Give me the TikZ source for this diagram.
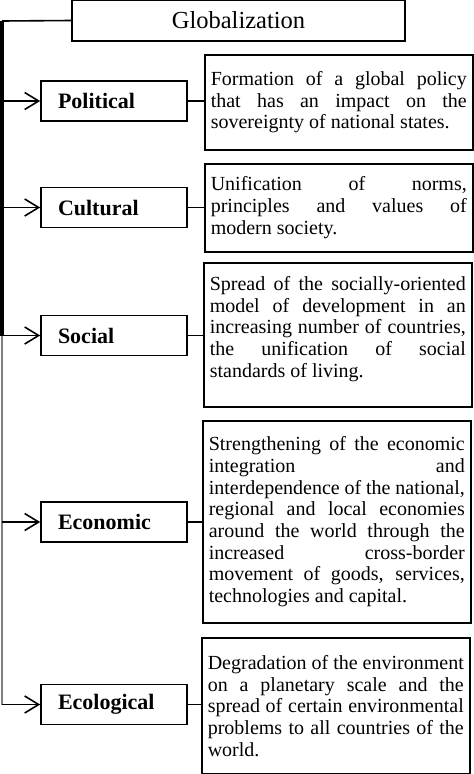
\documentclass[tikz,border=0pt]{standalone}
\usepackage{fontspec}
\setmainfont{Liberation Serif}
\usetikzlibrary{arrows.meta}

\begin{document}
\begin{tikzpicture}[x=1pt,y=-1pt,>={Straight Barb[length=14pt,width=17pt]},
    cat/.style={draw,line width=1.6pt,minimum height=40pt,text width=112pt,inner xsep=17pt,align=left,font=\fontsize{22}{24}\selectfont\bfseries},
    desc/.style={draw,line width=1.6pt,anchor=north west,text width=256pt,inner xsep=6pt,align=justify,font=\fontsize{20}{21.7}\selectfont}]
    \useasboundingbox (0,0) rectangle (474,774);

    \node[draw,line width=1.6pt,minimum width=333pt,minimum height=41pt,font=\fontsize{24.5}{26}\selectfont] (glob) at (238.5,20.5) {Globalization};

    \node[cat] (pol) at (114,101) {Political};
    \node[cat] (cul) at (114,207.5) {Cultural};
    \node[cat] (soc) at (114,335.5) {Social};
    \node[cat] (eco) at (114,522) {Economic};
    \node[cat] (ecl) at (114,704.5) {Ecological};

    \node[desc,minimum height=95pt] (pol-d) at (204,54) {Formation of a global policy\linebreak that has an impact on the\linebreak sovereignty of national states.};
    \node[desc,minimum height=88pt] (cul-d) at (204,163) {Unification of norms,\linebreak principles and values of\linebreak modern society.};
    \node[desc,minimum height=144pt] (soc-d) at (203,262) {Spread of the socially-oriented\linebreak model of development in an\linebreak increasing number of countries,\linebreak the unification of social\linebreak standards of living.\par\vspace*{-6pt}\null};
    \node[desc,minimum height=202pt] (eco-d) at (202,420) {Strengthening of the economic\linebreak integration and\linebreak interdependence of the national,\linebreak regional and local economies\linebreak around the world through the\linebreak increased cross-border\linebreak movement of goods, services,\linebreak technologies and capital.};
    \node[desc,minimum height=136pt] (ecl-d) at (201,637) {Degradation of the environment\linebreak on a planetary scale and the\linebreak spread of certain environmental\linebreak problems to all countries of the\linebreak world.};

    \coordinate (corner) at (2,21);
    \draw[line width=1.6pt] (glob.west) -- (corner);
    \draw[line width=4pt] (corner) -- (corner |- soc.west);
    \draw[line width=2.2pt,gray] (corner |- soc.west) -- (corner |- ecl.west);

    \draw[line width=1.6pt,->] (corner |- pol.west) -- (pol.west);
    \draw[line width=1.6pt,->] (corner |- cul.west) -- (cul.west);
    \draw[line width=1.6pt,->] (corner |- soc.west) -- (soc.west);
    \draw[line width=1.6pt,->] (corner |- eco.west) -- (eco.west);
    \draw[line width=1.6pt,->] (corner |- ecl.west) -- (ecl.west);

    \draw[line width=1.6pt] (pol.east) -- (pol.east -| pol-d.west);
    \draw[line width=1.6pt] (cul.east) -- (cul.east -| cul-d.west);
    \draw[line width=1.6pt] (soc.east) -- (soc.east -| soc-d.west);
    \draw[line width=1.6pt] (eco.east) -- (eco.east -| eco-d.west);
    \draw[line width=1.6pt] (ecl.east) -- (ecl.east -| ecl-d.west);
\end{tikzpicture}
\end{document}
